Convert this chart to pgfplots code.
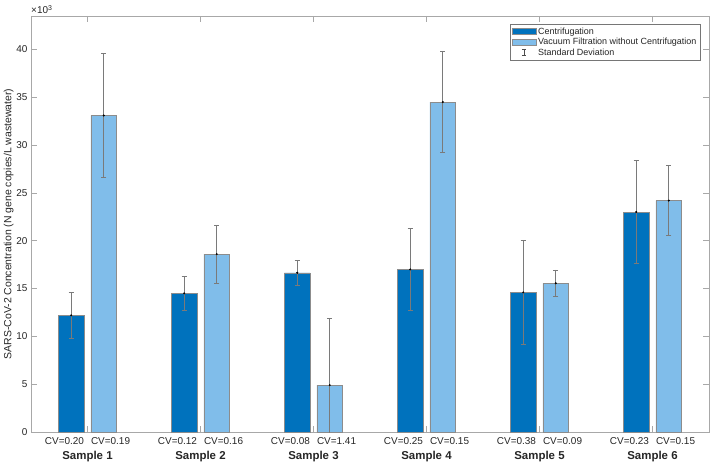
\documentclass[border=0pt]{standalone}
\usepackage{pgfplots}
\pgfplotsset{compat=1.18}
\usepackage{pgfplotstable}
\usepackage{fontspec}
\setmainfont{Liberation Sans}
\definecolor{cdark}{HTML}{0072BD}
\definecolor{clight}{HTML}{80BDEA}
\definecolor{axgray}{HTML}{A8A8A8}
\definecolor{txt}{HTML}{262626}
\definecolor{errc}{HTML}{7A7A7A}
\newcommand{\smp}[1]{{\fontsize{11.5}{13}\selectfont\bfseries #1}}

\pgfplotstableread{
x y e
1 12.2 2.4
2 14.5 1.74
3 16.65 1.33
4 17.0 4.27
5 14.6 5.46
6 23.0 5.4
}\centrif
\pgfplotstableread{
x y e
1 33.1 6.45
2 18.6 3.0
3 4.9 6.97
4 34.5 5.3
5 15.55 1.4
6 24.2 3.65
}\vacuum

\begin{document}
\begin{tikzpicture}
\begin{axis}[
  name=ax,
  width=678bp, height=416bp, scale only axis,
  xmin=0.5, xmax=6.5, ymin=0, ymax=43.5,
  clip mode=individual,
  axis line style={axgray, line width=0.6pt},
  tick style={axgray, line width=0.6pt},
  major tick length=6bp,
  tick align=inside,
  ytick={0,5,...,40},
  /pgf/number format/assume math mode=true,
  y tick label style={font=\fontsize{10}{12}\selectfont, text=txt},
  xtick={1,2,3,4,5,6},
  xticklabels={\smp{Sample 1},\smp{Sample 2},\smp{Sample 3},\smp{Sample 4},\smp{Sample 5},\smp{Sample 6}},
  x tick label style={font=\fontsize{10}{12}\selectfont, text=txt, yshift=-15.5bp},
  extra x ticks={0.796,1.204,1.796,2.204,2.796,3.204,3.796,4.204,4.796,5.204,5.796,6.204},
  extra x tick labels={CV=0.20,CV=0.19,CV=0.12,CV=0.16,CV=0.08,CV=1.41,CV=0.25,CV=0.15,CV=0.38,CV=0.09,CV=0.23,CV=0.15},
  extra x tick style={major tick length=0pt, tick label style={yshift=13bp}},
  ylabel={SARS-CoV-2 Concentration (N gene copies/L wastewater)},
  ylabel style={font=\fontsize{10.5}{12}\selectfont, text=txt},
  ylabel shift=-4bp,
  legend style={at={(rel axis cs:0.987,0.981)}, anchor=north east, draw=axgray!70!black,
    line width=0.5pt, font=\fontsize{9}{10.5}\selectfont, text=txt, inner sep=1.5bp, row sep=-1.5bp},
  legend cell align=left,
]
\addplot[ybar, bar width=0.227, bar shift=0pt, fill=cdark, draw=black!45, line width=0.4pt,
  mark=*, mark size=0.8bp, mark options={fill=black, draw=black},
  legend image code/.code={\draw[fill=cdark, draw=black!45] (0bp,-3bp) rectangle (24bp,3bp);},
  error bars/.cd, y dir=both, y explicit,
  error bar style={errc, line width=0.6pt},
  error mark options={errc, line width=0.6pt, mark size=2.6bp, rotate=90}]
  table[x expr=\thisrow{x}-0.144, y=y, y error=e] {\centrif};
\addlegendentry{Centrifugation}
\addplot[ybar, bar width=0.227, bar shift=0pt, fill=clight, draw=black!45, line width=0.4pt,
  mark=*, mark size=0.8bp, mark options={fill=black, draw=black},
  legend image code/.code={\draw[fill=clight, draw=black!45] (0bp,-3bp) rectangle (24bp,3bp);},
  error bars/.cd, y dir=both, y explicit,
  error bar style={errc, line width=0.6pt},
  error mark options={errc, line width=0.6pt, mark size=2.6bp, rotate=90}]
  table[x expr=\thisrow{x}+0.144, y=y, y error=e] {\vacuum};
\addlegendentry{Vacuum Filtration without Centrifugation}
\addlegendimage{legend image code/.code={\draw[black!70, line width=0.5pt] (12bp,-3bp)--(12bp,3bp) (10bp,-3bp)--(14bp,-3bp) (10bp,3bp)--(14bp,3bp);}}
\addlegendentry{Standard Deviation}
\end{axis}
\node[anchor=south west, inner sep=0pt, font=\fontsize{10}{12}\selectfont, text=txt] at ([yshift=2bp]ax.north west) {×10\textsuperscript{3}};
\pgfresetboundingbox
\path[use as bounding box] ([shift={(-31bp,-33bp)}]ax.south west) rectangle ([shift={(1bp,16bp)}]ax.north east);
\end{tikzpicture}
\end{document}
